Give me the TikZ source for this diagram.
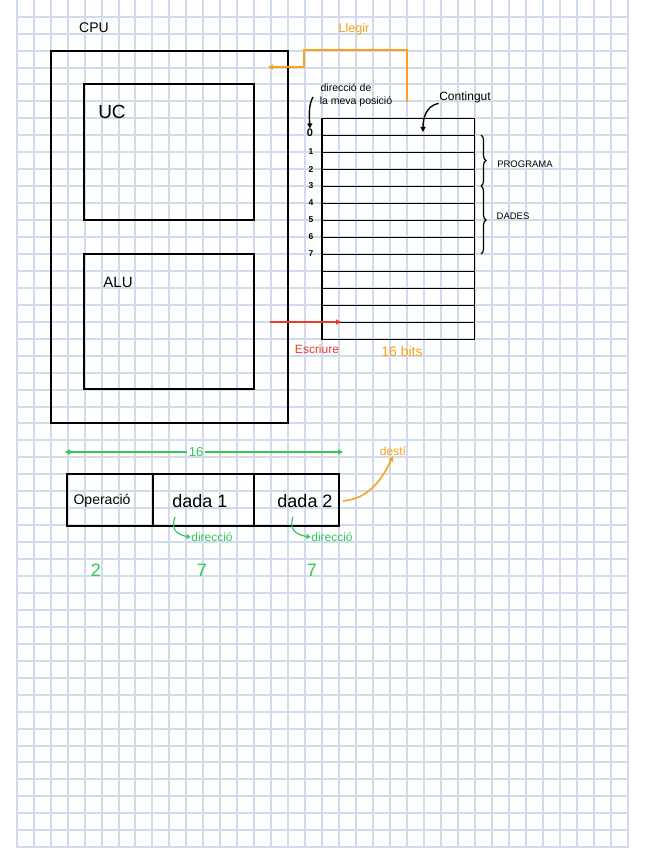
\documentclass[tikz,border=0pt]{standalone}
\usepackage{fontspec}
\setmainfont{Liberation Sans}
\usetikzlibrary{arrows.meta,decorations.pathreplacing}
\definecolor{gridc}{RGB}{208,219,238}
\definecolor{hgreen}{RGB}{52,199,89}
\definecolor{horange}{RGB}{250,162,25}
\definecolor{hred}{RGB}{236,58,42}
\begin{document}
\begin{tikzpicture}[x=1pt,y=-1pt,
  gridline/.style={gridc,line width=2pt},
  box/.style={draw=black,line width=1.7pt,inner sep=0pt},
  memrow/.style={draw=black,line width=1.7pt,inner sep=0pt,minimum width=152.5pt,minimum height=17pt},
  txt/.style={inner sep=0.5pt},
  blk/.style={black,line width=1.4pt,-{Triangle[length=5pt,width=5pt]}},
  orng/.style={horange,line width=1.6pt,-{Triangle[length=5pt,width=5pt]}},
  redarr/.style={hred,line width=1.6pt,-{Triangle[length=5pt,width=5pt]}},
  grn/.style={hgreen,line width=1.5pt,-{Triangle[length=5pt,width=5pt]}},
  hook/.style={hgreen,line width=1.2pt,-{Straight Barb[length=3pt,width=4pt]}},
  brc/.style={black,line width=1.2pt,decorate,decoration={brace,amplitude=5pt}}
]
\useasboundingbox (0,0) rectangle (646,848);
\fill[white] (0,0) rectangle (646,848);
% grid paper
\foreach \k in {0,...,36} \draw[gridline] ({round(16.7+16.97*\k)},0) -- ({round(16.7+16.97*\k)},848);
\foreach \k in {0,...,49} \draw[gridline] (16,{round(16.7+16.95*\k)}) -- (629,{round(16.7+16.95*\k)});

% CPU
\node[box,minimum width=237pt,minimum height=372pt] (cpu) at (169.5,237) {};
\node[txt,font=\fontsize{14}{16}\selectfont] (cpul) at (94,28) {CPU};
\node[box,minimum width=170pt,minimum height=136pt] (uc) at (169,152) {};
\node[txt,font=\fontsize{19}{22}\selectfont] (ucl) at (112,112) {UC};
\node[box,minimum width=170pt,minimum height=135pt] (alu) at (169,321.5) {};
\node[txt,font=\fontsize{15}{18}\selectfont] (alul) at (118,282) {ALU};

% memory
\foreach \i in {0,...,12} \node[memrow] (r\i) at (398.3,{126.9+17*\i}) {};
\foreach \n/\y in {1/152,2/170,3/186,4/203,5/220,6/237,7/254}
  \node[txt,font=\fontsize{8.5}{10}\selectfont\bfseries] (a\n) at (311,\y) {\n};
\node[txt,font=\fontsize{11}{13}\selectfont\bfseries] (a0) at (310,133) {0};

\node[txt,font=\fontsize{10.5}{13}\selectfont] (dir1) at (346,88) {direcció de};
\node[txt,font=\fontsize{10.5}{13}\selectfont] (dir2) at (356,102) {la meva posició};
\draw[blk] (313,97) .. controls (309,104) and (309,113) .. (a0.north);

\node[txt,font=\fontsize{12}{14}\selectfont] (cont) at (465,97) {Contingut};
\draw[blk] (cont.south west) .. controls (426,106) and (423,118) .. (423,132);

\draw[brc] (481,135) -- (481,186);
\draw[brc] (481,186) -- (481,254);
\node[txt,font=\fontsize{9.5}{11}\selectfont] (prog) at (525,164) {PROGRAMA};
\node[txt,font=\fontsize{9.5}{11}\selectfont] (dades) at (513,216) {DADES};

% llegir
\node[txt,horange,font=\fontsize{12.5}{14}\selectfont] (llegir) at (354,29) {Llegir};
\coordinate (ls) at (407,102);
\coordinate (le) at (268,67);
\draw[orng] (ls) -- (407,50) -- (304,50) -- (304,67) -- (le);

% escriure
\coordinate (ws) at (270,322);
\coordinate (we) at (341,322);
\draw[redarr] (ws) -- (we);
\node[txt,hred,font=\fontsize{12}{14}\selectfont] (escr) at (317,349) {Escriure};
\node[txt,horange,font=\fontsize{14}{16}\selectfont] (bits) at (402,351) {16 bits};

% instruction format
\node[box,minimum width=86pt,minimum height=52pt] (op) at (110,500) {};
\node[box,minimum width=101pt,minimum height=52pt] (d1) at (203.5,500) {};
\node[box,minimum width=85pt,minimum height=52pt] (d2) at (296.5,500) {};
\node[txt,font=\fontsize{14}{16}\selectfont] (opl) at (102,501) {Operació};
\node[txt,font=\fontsize{18}{20}\selectfont] (d1l) at (200,501) {dada 1};
\node[txt,font=\fontsize{18}{20}\selectfont] (d2l) at (305,501) {dada 2};

\node[txt,inner xsep=2pt,hgreen,font=\fontsize{13}{15}\selectfont] (n16) at (196,452) {16};
\coordinate (g16l) at (65,452);
\coordinate (g16r) at (343,452);
\draw[grn] (n16.west) -- (g16l);
\draw[grn] (n16.east) -- (g16r);

\node[txt,horange,font=\fontsize{12}{14}\selectfont] (desti) at (393,451) {destí};
\coordinate (ds) at (343,501);
\draw[orng] (ds) .. controls (363,499) and (378,488) .. (desti.south);

\node[txt,hgreen,font=\fontsize{12}{14}\selectfont] (dc1) at (212,537) {direcció};
\node[txt,hgreen,font=\fontsize{12}{14}\selectfont] (dc2) at (332,537) {direcció};
\draw[hook] (175,517) .. controls (171,528) and (175,535) .. (dc1.west);
\draw[hook] (293,517) .. controls (289,528) and (294,535) .. (dc2.west);

\node[txt,hgreen,font=\fontsize{18}{20}\selectfont] (b2) at (96,570) {2};
\node[txt,hgreen,font=\fontsize{18}{20}\selectfont] (b7a) at (202,570) {7};
\node[txt,hgreen,font=\fontsize{18}{20}\selectfont] (b7b) at (312,570) {7};
\end{tikzpicture}
\end{document}
